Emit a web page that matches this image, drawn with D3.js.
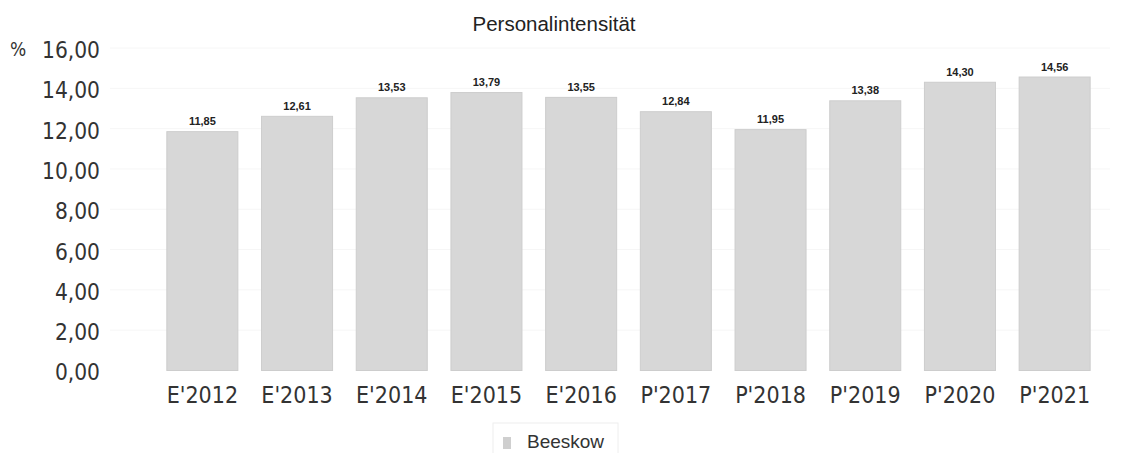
<!DOCTYPE html>
<html>
<head>
<meta charset="utf-8">
<script src="https://cdn.jsdelivr.net/npm/d3@7"></script>
<style>
  html, body { margin: 0; padding: 0; background: #fff; }
  svg { display: block; }
</style>
</head>
<body>
<script>
const categories = ["E'2012", "E'2013", "E'2014", "E'2015", "E'2016", "P'2017", "P'2018", "P'2019", "P'2020", "P'2021"];
const values = [11.85, 12.61, 13.53, 13.79, 13.55, 12.84, 11.95, 13.38, 14.30, 14.56];
const valueLabels = ["11,85", "12,61", "13,53", "13,79", "13,55", "12,84", "11,95", "13,38", "14,30", "14,56"];
const yTicks = [0, 2, 4, 6, 8, 10, 12, 14, 16];
const yTickLabels = ["0,00", "2,00", "4,00", "6,00", "8,00", "10,00", "12,00", "14,00", "16,00"];
const seriesName = "Beeskow";
const title = "Personalintensität";
const unit = "%";

const W = 1126, H = 453;
const svg = d3.select("body").append("svg").attr("width", W).attr("height", H);

const x = d3.scaleBand().domain(categories).range([155, 1102]).paddingInner(0.25).paddingOuter(0.125);
const y = d3.scaleLinear().domain([0, 16]).range([370.5, 48]);

// faint gridlines
svg.append("g").selectAll("line").data(yTicks.slice(1)).join("line")
  .attr("x1", 110).attr("x2", 1110)
  .attr("y1", d => y(d)).attr("y2", d => y(d))
  .attr("stroke", "#f6f6f6").attr("stroke-width", 1);

// bars
svg.append("g").selectAll("rect").data(values).join("rect")
  .attr("x", (d, i) => x(categories[i]))
  .attr("y", d => y(d))
  .attr("width", x.bandwidth())
  .attr("height", d => y(0) - y(d))
  .attr("fill", "#d7d7d7")
  .attr("stroke", "#cdcdcd").attr("stroke-width", 1);

// value labels
svg.append("g").selectAll("text").data(values).join("text")
  .attr("x", (d, i) => x(categories[i]) + x.bandwidth() / 2)
  .attr("y", d => y(d) - 6.5)
  .attr("text-anchor", "middle")
  .attr("font-family", "Liberation Sans, Arial, sans-serif")
  .attr("font-weight", "bold")
  .attr("font-size", 11)
  .attr("fill", "#222")
  .text((d, i) => valueLabels[i]);

// y axis
const yAxis = d3.axisLeft(y).tickValues(yTicks).tickSize(0).tickPadding(0)
  .tickFormat((d, i) => yTickLabels[i]);
const gy = svg.append("g").attr("transform", "translate(100,0)").call(yAxis);
gy.select(".domain").remove();
gy.selectAll("text")
  .attr("font-family", "DejaVu Sans Condensed, DejaVu Sans, sans-serif")
  .attr("font-size", 22.5)
  .attr("fill", "#333")
  .attr("dy", "0.42em");

// x axis
const xAxis = d3.axisBottom(x).tickSize(0).tickPadding(0);
const gx = svg.append("g").attr("transform", "translate(0,370.5)").call(xAxis);
gx.select(".domain").remove();
gx.selectAll("text")
  .attr("font-family", "DejaVu Sans Condensed, DejaVu Sans, sans-serif")
  .attr("font-size", 23)
  .attr("fill", "#333")
  .attr("dy", 0)
  .attr("y", 32.5);

// unit
svg.append("text").attr("x", 10).attr("y", 56)
  .attr("font-family", "DejaVu Sans Condensed, DejaVu Sans, sans-serif")
  .attr("font-size", 19).attr("fill", "#333").text(unit);

// title
svg.append("text").attr("x", 554).attr("y", 31).attr("text-anchor", "middle")
  .attr("font-family", "Liberation Sans, Arial, sans-serif")
  .attr("font-size", 20.5).attr("fill", "#222").text(title);

// legend
const lg = svg.append("g");
lg.append("rect").attr("x", 493).attr("y", 423).attr("width", 125).attr("height", 40)
  .attr("fill", "none").attr("stroke", "#eeeeee");
lg.append("rect").attr("x", 503).attr("y", 437).attr("width", 8).attr("height", 12)
  .attr("fill", "#cfcfcf");
lg.append("text").attr("x", 527).attr("y", 448)
  .attr("font-family", "Liberation Sans, Arial, sans-serif")
  .attr("font-size", 19).attr("fill", "#333").text(seriesName);
</script>
</body>
</html>
